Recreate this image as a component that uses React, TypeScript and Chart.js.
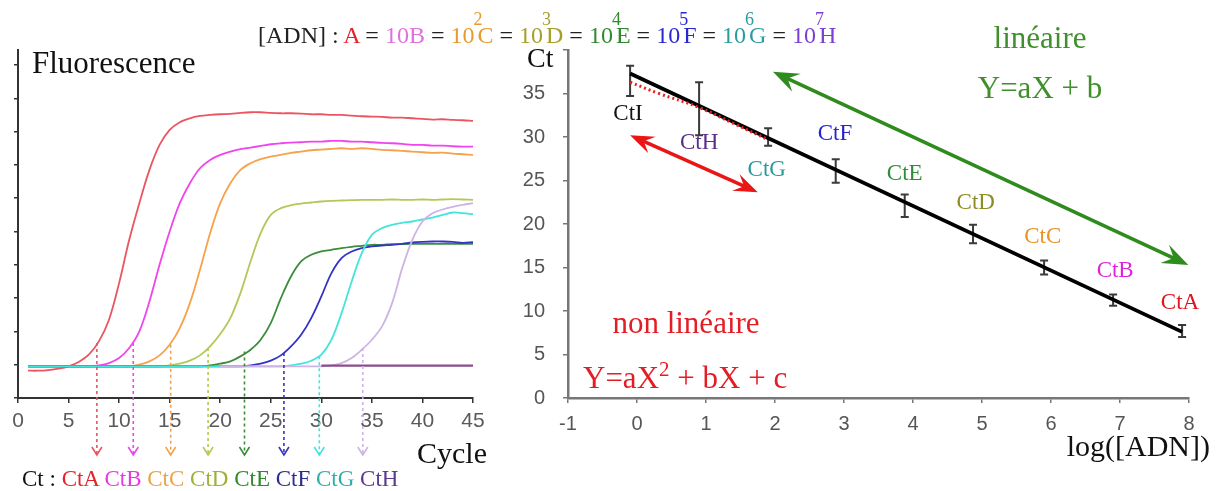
import React, { useEffect, useRef } from 'react';
import { Chart, registerables } from 'chart.js';

Chart.register(...registerables);

// ---------- Left chart: amplification curves ----------
const cycles = [1, 2, 3, 4, 5, 6, 7, 8, 9, 10, 11, 12, 13, 14, 15, 16, 17, 18, 19, 20, 21, 22, 23, 24, 25, 26, 27, 28, 29, 30, 31, 32, 33, 34, 35, 36, 37, 38, 39, 40, 41, 42, 43, 44, 45];
const cycleTicks = [0, 5, 10, 15, 20, 25, 30, 35, 40, 45];
const fluoTicks = [0, 1, 2, 3, 4, 5, 6, 7, 8, 9, 10];

const serieA = [0.82, 0.82, 0.84, 0.88, 0.95, 1.08, 1.3, 1.7, 2.35, 3.45, 4.75, 5.85, 6.85, 7.6, 8.05, 8.28, 8.4, 8.47, 8.5, 8.52, 8.53, 8.56, 8.58, 8.58, 8.56, 8.55, 8.55, 8.54, 8.52, 8.52, 8.5, 8.5, 8.48, 8.46, 8.45, 8.44, 8.42, 8.42, 8.4, 8.38, 8.36, 8.37, 8.35, 8.34, 8.32];
const serieB = [0.95, 0.95, 0.95, 0.95, 0.95, 0.95, 0.95, 0.98, 1.05, 1.2, 1.5, 2.0, 2.9, 4.0, 5.0, 5.85, 6.45, 6.9, 7.15, 7.3, 7.4, 7.47, 7.52, 7.57, 7.62, 7.65, 7.67, 7.68, 7.7, 7.7, 7.72, 7.72, 7.7, 7.7, 7.68, 7.66, 7.65, 7.63, 7.6, 7.6, 7.58, 7.58, 7.56, 7.55, 7.55];
const serieC = [0.95, 0.95, 0.95, 0.95, 0.95, 0.95, 0.95, 0.95, 0.95, 0.95, 0.95, 1.0, 1.1, 1.28, 1.6, 2.1, 2.85, 3.85, 4.95, 5.85, 6.45, 6.85, 7.05, 7.17, 7.25, 7.3, 7.36, 7.4, 7.44, 7.46, 7.48, 7.5, 7.48, 7.5, 7.48, 7.45, 7.44, 7.42, 7.4, 7.38, 7.36, 7.37, 7.34, 7.32, 7.3];
const serieD = [0.95, 0.95, 0.95, 0.95, 0.95, 0.95, 0.95, 0.95, 0.95, 0.95, 0.95, 0.95, 0.95, 0.95, 0.98, 1.03, 1.12, 1.28, 1.55, 1.92, 2.4, 3.15, 4.1, 4.95, 5.5, 5.7, 5.79, 5.84, 5.87, 5.9, 5.92, 5.93, 5.94, 5.95, 5.95, 5.95, 5.96, 5.95, 5.95, 5.96, 5.95, 5.96, 5.97, 5.96, 5.95];
const serieE = [0.95, 0.95, 0.95, 0.95, 0.95, 0.95, 0.95, 0.95, 0.95, 0.95, 0.95, 0.95, 0.95, 0.95, 0.95, 0.95, 0.95, 0.95, 0.98, 1.03, 1.1, 1.25, 1.45, 1.75, 2.25, 3.0, 3.65, 4.1, 4.3, 4.4, 4.45, 4.5, 4.54, 4.57, 4.6, 4.6, 4.62, 4.62, 4.63, 4.63, 4.63, 4.63, 4.63, 4.63, 4.63];
const serieF = [0.95, 0.95, 0.95, 0.95, 0.95, 0.95, 0.95, 0.95, 0.95, 0.95, 0.95, 0.95, 0.95, 0.95, 0.95, 0.95, 0.95, 0.95, 0.95, 0.95, 0.95, 0.95, 0.98, 1.03, 1.12, 1.28, 1.55, 1.9, 2.4, 3.05, 3.75, 4.2, 4.4, 4.5, 4.55, 4.58, 4.6, 4.63, 4.67, 4.69, 4.7, 4.7, 4.69, 4.66, 4.68];
const serieG = [0.95, 0.95, 0.95, 0.95, 0.95, 0.95, 0.95, 0.95, 0.95, 0.95, 0.95, 0.95, 0.95, 0.95, 0.95, 0.95, 0.95, 0.95, 0.95, 0.95, 0.95, 0.95, 0.95, 0.95, 0.95, 0.95, 0.98, 1.03, 1.12, 1.3, 1.75, 2.55, 3.5, 4.35, 4.9, 5.1, 5.2, 5.26, 5.3, 5.36, 5.42, 5.5, 5.57, 5.55, 5.52];
const serieH = [null, null, null, null, null, null, null, null, null, null, null, null, null, null, null, null, null, null, null, 0.95, 0.95, 0.95, 0.95, 0.95, 0.95, 0.95, 0.95, 0.95, 0.95, 0.95, 0.98, 1.05, 1.2, 1.45, 1.75, 2.15, 2.85, 3.9, 4.75, 5.3, 5.55, 5.66, 5.74, 5.8, 5.85];
const serieNeg = [null, null, null, null, null, null, null, null, null, null, null, null, null, null, null, null, null, null, null, null, null, null, null, null, null, null, null, null, null, 0.97, 0.97, 0.97, 0.97, 0.97, 0.97, 0.97, 0.97, 0.97, 0.97, 0.97, 0.97, 0.97, 0.97, 0.97, 0.97];

const ctNames = ['CtA', 'CtB', 'CtC', 'CtD', 'CtE', 'CtF', 'CtG', 'CtH'];
const ctCycles = [7.8, 11.4, 15.1, 18.8, 22.4, 26.3, 29.8, 34.1];
const ctThreshold = [1.65, 1.65, 1.6, 1.5, 1.4, 1.35, 1.25, 1.5];

const curveColors = ['#ea5560', '#f044ee', '#f5a24a', '#b2c858', '#3c8c3c', '#3434c4', '#44e4dc', '#cdb4e4'];
const negColor = '#8c4c8c';
const ctTextColors = ['#e4222b', '#e23ce0', '#eaa448', '#9fb034', '#2f8a2f', '#2c2c8c', '#2fb0a4', '#5a3a8e'];

// ---------- Right chart: standard curve ----------
const logConc = [-0.1, 0.9, 1.9, 2.88, 3.88, 4.87, 5.9, 6.9, 7.9];
const ctMean = [36.45, 33.25, 30.0, 26.1, 22.1, 18.85, 15.0, 11.25, 7.7];
const ctErr = [1.75, 3.05, 1.0, 1.35, 1.3, 1.05, 0.8, 0.65, 0.7];
const pointNames = ['CtI', 'CtH', 'CtG', 'CtF', 'CtE', 'CtD', 'CtC', 'CtB', 'CtA'];
const pointLabelX = [-0.13, 0.9, 1.88, 2.87, 3.88, 4.91, 5.88, 6.93, 7.87];
const pointLabelY = [32.7, 29.3, 26.2, 30.4, 25.7, 22.4, 18.5, 14.6, 10.9];
const pointColors = ['#111111', '#5a2d8c', '#2a9a98', '#2424cc', '#2e8c3a', '#8c8c22', '#ea9224', '#e022de', '#e0121e'];
const fitX = [-0.1, 7.9];
const fitY = [37.3, 7.6];
const quadX = [-0.1, 0.3, 0.9, 1.4, 1.9];
const quadY = [36.3, 35.05, 33.4, 31.55, 29.7];
const greenArrowX = [1.97, 7.99];
const greenArrowY = [37.5, 15.3];
const redArrowX = [-0.1, 1.75];
const redArrowY = [30.2, 23.65];

const SERIF = "'Liberation Serif', 'Times New Roman', serif";
const SANS = "'Liberation Sans', Arial, sans-serif";

const titleColors = { A: '#e4222b', B: '#e070e0', C: '#e99a2c', D: '#a4a12a', E: '#2e8a2e', F: '#2828d2', G: '#2b9c9c', H: '#7a40d6' };

function arrowHead(ctx: CanvasRenderingContext2D, tx: number, ty: number, fx: number, fy: number, len: number, half: number, color: string) {
  const ang = Math.atan2(ty - fy, tx - fx);
  ctx.save();
  ctx.translate(tx, ty);
  ctx.rotate(ang);
  ctx.beginPath();
  ctx.moveTo(0, 0);
  ctx.lineTo(-len, -half);
  ctx.lineTo(-len * 0.62, 0);
  ctx.lineTo(-len, half);
  ctx.closePath();
  ctx.fillStyle = color;
  ctx.fill();
  ctx.restore();
}

function doubleArrow(ctx: CanvasRenderingContext2D, x1: number, y1: number, x2: number, y2: number, color: string, width: number, len: number, half: number) {
  const d = Math.hypot(x2 - x1, y2 - y1);
  const ux = (x2 - x1) / d;
  const uy = (y2 - y1) / d;
  ctx.save();
  ctx.strokeStyle = color;
  ctx.lineWidth = width;
  ctx.beginPath();
  ctx.moveTo(x1 + ux * len * 0.6, y1 + uy * len * 0.6);
  ctx.lineTo(x2 - ux * len * 0.6, y2 - uy * len * 0.6);
  ctx.stroke();
  ctx.restore();
  arrowHead(ctx, x2, y2, x1, y1, len, half, color);
  arrowHead(ctx, x1, y1, x2, y2, len, half, color);
}

const dropLinesPlugin = {
  id: 'dropLines',
  afterDraw(chart: any) {
    const { ctx, scales } = chart;
    const xs = scales.x;
    const ys = scales.y;
    const yEnd = 455;
    ctCycles.forEach((ct, i) => {
      const x = xs.getPixelForValue(ct);
      const y0 = ys.getPixelForValue(ctThreshold[i]);
      ctx.save();
      ctx.strokeStyle = curveColors[i];
      ctx.lineWidth = 1.6;
      ctx.setLineDash([3, 3]);
      ctx.beginPath();
      ctx.moveTo(x, y0);
      ctx.lineTo(x, yEnd);
      ctx.stroke();
      ctx.setLineDash([]);
      ctx.beginPath();
      ctx.moveTo(x - 5, yEnd - 8);
      ctx.lineTo(x, yEnd);
      ctx.lineTo(x + 5, yEnd - 8);
      ctx.stroke();
      ctx.restore();
    });
  },
};

const errorBarsPlugin = {
  id: 'errorBars',
  beforeDatasetsDraw(chart: any) {
    const { ctx, scales } = chart;
    ctx.save();
    ctx.strokeStyle = '#3a3a3a';
    ctx.lineWidth = 2;
    logConc.forEach((lx, i) => {
      const x = scales.x.getPixelForValue(lx);
      const yt = scales.y.getPixelForValue(ctMean[i] + ctErr[i]);
      const yb = scales.y.getPixelForValue(ctMean[i] - ctErr[i]);
      ctx.beginPath();
      ctx.moveTo(x, yt);
      ctx.lineTo(x, yb);
      ctx.moveTo(x - 4, yt);
      ctx.lineTo(x + 4, yt);
      ctx.moveTo(x - 4, yb);
      ctx.lineTo(x + 4, yb);
      ctx.stroke();
    });
    ctx.restore();
  },
  afterDraw(chart: any) {
    const { ctx, scales } = chart;
    const px = (v: number) => scales.x.getPixelForValue(v);
    const py = (v: number) => scales.y.getPixelForValue(v);
    ctx.save();
    ctx.font = `23px ${SERIF}`;
    ctx.textAlign = 'center';
    ctx.textBaseline = 'middle';
    pointNames.forEach((n, i) => {
      ctx.fillStyle = pointColors[i];
      ctx.fillText(n, px(pointLabelX[i]), py(pointLabelY[i]));
    });
    ctx.restore();
    doubleArrow(ctx, px(greenArrowX[0]), py(greenArrowY[0]), px(greenArrowX[1]), py(greenArrowY[1]), '#2f8c1c', 3.5, 26, 10);
    doubleArrow(ctx, px(redArrowX[0]), py(redArrowY[0]), px(redArrowX[1]), py(redArrowY[1]), '#ea1616', 3.5, 24, 9);
  },
};

const Sup = ({ children, top = -18, size = 18, ml = -1, mr = -5 }: any) => (
  <span style={{ position: 'relative', top, fontSize: size, marginLeft: ml, marginRight: mr }}>{children}</span>
);

export default function App() {
  const leftRef = useRef<HTMLCanvasElement>(null);
  const rightRef = useRef<HTMLCanvasElement>(null);

  useEffect(() => {
    const series = [serieA, serieB, serieC, serieD, serieE, serieF, serieG, serieH];
    const leftDatasets: any[] = series.map((s, i) => ({
      data: cycles.map((c, j) => ({ x: c, y: s[j] })),
      borderColor: curveColors[i],
      borderWidth: 1.8,
      pointRadius: 0,
      tension: 0.35,
      spanGaps: false,
      order: 10 - i,
    }));
    leftDatasets.push({
      data: cycles.map((c, j) => ({ x: c, y: serieNeg[j] })),
      borderColor: negColor,
      borderWidth: 2.2,
      pointRadius: 0,
      tension: 0,
      order: 0,
    });

    const left = new Chart(leftRef.current as HTMLCanvasElement, {
      type: 'line',
      data: { datasets: leftDatasets },
      options: {
        animation: false,
        responsive: false,
        devicePixelRatio: 1,
        layout: { padding: { left: 0, right: 27, top: 50, bottom: 53 } },
        plugins: { legend: { display: false }, tooltip: { enabled: false } },
        scales: {
          x: {
            type: 'linear',
            min: 0,
            max: 45,
            afterBuildTicks: (s: any) => { s.ticks = cycleTicks.map((v) => ({ value: v })); },
            afterFit: (s: any) => { s.height = 40; },
            ticks: { font: { size: 21, family: SANS }, color: '#5a5a5a', padding: 6, maxRotation: 0 },
            grid: { drawOnChartArea: false, tickLength: 5, color: '#333', lineWidth: 1.5 },
            border: { color: '#333', width: 2 },
          },
          y: {
            type: 'linear',
            min: 0,
            max: 10.45,
            afterBuildTicks: (s: any) => { s.ticks = fluoTicks.map((v) => ({ value: v })); },
            afterFit: (s: any) => { s.width = 18; },
            ticks: { display: false },
            grid: { drawOnChartArea: false, tickLength: 4, color: '#333', lineWidth: 1.5 },
            border: { color: '#333', width: 2 },
          },
        },
      } as any,
      plugins: [dropLinesPlugin],
    });

    const right = new Chart(rightRef.current as HTMLCanvasElement, {
      type: 'line',
      data: {
        datasets: [
          {
            data: fitX.map((x, i) => ({ x, y: fitY[i] })),
            borderColor: '#000',
            borderWidth: 3.8,
            pointRadius: 0,
            order: 2,
          },
          {
            data: quadX.map((x, i) => ({ x, y: quadY[i] })),
            borderColor: '#ec1c1c',
            borderWidth: 3,
            borderDash: [2, 3],
            pointRadius: 0,
            tension: 0.4,
            order: 1,
          },
          {
            data: logConc.map((x, i) => ({ x, y: ctMean[i] })),
            showLine: false,
            pointRadius: 0,
            order: 3,
          },
        ],
      },
      options: {
        animation: false,
        responsive: false,
        devicePixelRatio: 1,
        layout: { padding: { left: 0, right: 31, top: 50, bottom: 53 } },
        plugins: { legend: { display: false }, tooltip: { enabled: false } },
        scales: {
          x: {
            type: 'linear',
            min: -1,
            max: 8,
            ticks: { stepSize: 1, font: { size: 20, family: SANS }, color: '#555', padding: 9, maxRotation: 0 },
            afterFit: (s: any) => { s.height = 40; },
            grid: { drawOnChartArea: false, tickLength: 5, color: '#777', lineWidth: 1.5 },
            border: { color: '#777', width: 2.5 },
          },
          y: {
            type: 'linear',
            min: 0,
            max: 40,
            ticks: {
              stepSize: 5,
              font: { size: 20, family: SANS },
              color: '#555',
              padding: 18,
              callback: (v: any) => (v === 40 ? '' : String(v)),
            },
            afterFit: (s: any) => { s.width = 68; },
            grid: { drawOnChartArea: false, tickLength: 5, color: '#777', lineWidth: 1.5 },
            border: { color: '#777', width: 2.5 },
          },
        },
      } as any,
      plugins: [errorBarsPlugin],
    });

    return () => {
      left.destroy();
      right.destroy();
    };
  }, []);

  const txt = (extra: any): any => ({
    position: 'absolute',
    fontFamily: SERIF,
    lineHeight: 1,
    whiteSpace: 'nowrap',
    ...extra,
  });

  return (
    <div style={{ position: 'absolute', left: 0, top: 0, width: 1220, height: 491, background: '#fff', overflow: 'hidden' }}>
      <canvas ref={leftRef} width={500} height={491} style={{ position: 'absolute', left: 0, top: 0, width: 500, height: 491 }} />
      <canvas ref={rightRef} width={720} height={491} style={{ position: 'absolute', left: 500, top: 0, width: 720, height: 491 }} />

      <div style={txt({ left: 258, top: 23, fontSize: 24, color: '#222' })}>
        [ADN] : <span style={{ color: titleColors.A }}>A</span> = <span style={{ color: titleColors.B }}>10B</span> ={' '}
        <span style={{ color: titleColors.C }}>10<Sup>2</Sup>C</span> ={' '}
        <span style={{ color: titleColors.D }}>10<Sup>3</Sup>D</span> ={' '}
        <span style={{ color: titleColors.E }}>10<Sup>4</Sup>E</span> ={' '}
        <span style={{ color: titleColors.F }}>10<Sup>5</Sup>F</span> ={' '}
        <span style={{ color: titleColors.G }}>10<Sup>6</Sup>G</span> ={' '}
        <span style={{ color: titleColors.H }}>10<Sup>7</Sup>H</span>
      </div>

      <div style={txt({ left: 32, top: 47, fontSize: 31, color: '#111' })}>Fluorescence</div>
      <div style={txt({ left: 417, top: 438, fontSize: 30, color: '#111' })}>Cycle</div>
      <div style={txt({ left: 22, top: 467, fontSize: 23, color: '#111' })}>
        Ct :{' '}
        {ctNames.map((n, i) => (
          <span key={n} style={{ color: ctTextColors[i] }}>{n}{i < ctNames.length - 1 ? ' ' : ''}</span>
        ))}
      </div>

      <div style={txt({ left: 527, top: 44, fontSize: 28, color: '#111' })}>Ct</div>
      <div style={txt({ left: 1040, top: 22, fontSize: 31, color: '#3f8f2a', transform: 'translateX(-50%)' })}>linéaire</div>
      <div style={txt({ left: 1040, top: 72, fontSize: 31, color: '#3f8f2a', transform: 'translateX(-50%)' })}>Y=aX + b</div>
      <div style={txt({ left: 686, top: 307, fontSize: 31, color: '#e41c24', transform: 'translateX(-50%)' })}>non linéaire</div>
      <div style={txt({ left: 583, top: 362, fontSize: 31, color: '#e41c24' })}>
        Y=aX<Sup top={-12} size={21} ml={0} mr={0}>2</Sup> + bX + c
      </div>
      <div style={txt({ left: 1210, top: 431, fontSize: 30, color: '#111', transform: 'translateX(-100%)' })}>log([ADN])</div>
    </div>
  );
}
